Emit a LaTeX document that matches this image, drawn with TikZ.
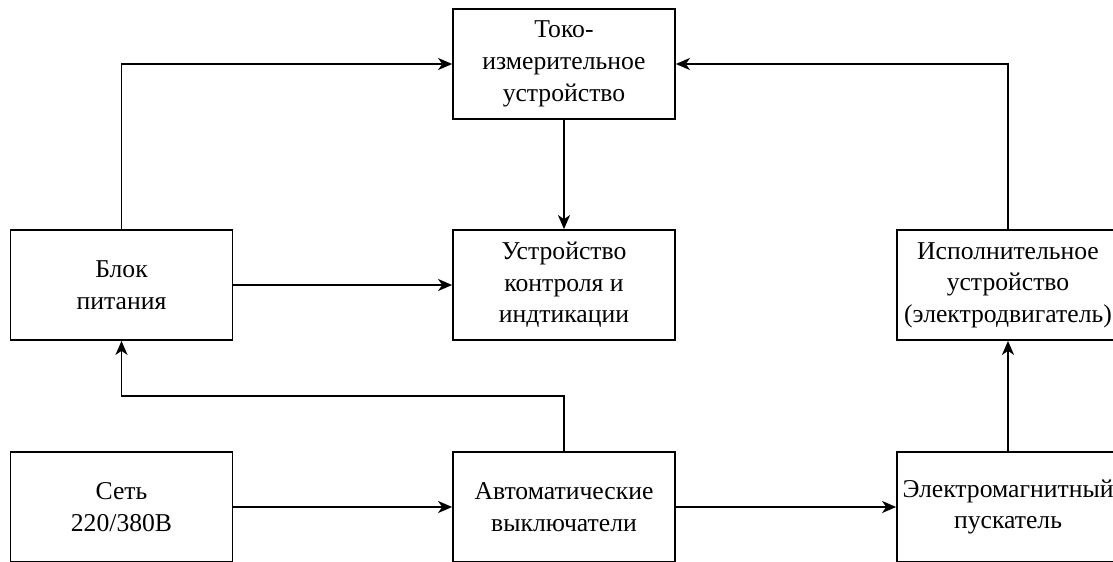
\documentclass[tikz,border=0pt]{standalone}
\usepackage{fontspec}
\setmainfont{Liberation Serif}
\usetikzlibrary{arrows.meta,positioning,calc}
\tikzstyle{blk}=[draw, line width=1pt, minimum width=4.44cm, minimum height=2.2cm, inner sep=0pt, align=center, font=\fontsize{14.6}{18}\selectfont]
\tikzstyle{lnk}=[line width=1pt, -{Stealth[length=0.28cm,width=0.24cm,inset=0.08cm]}]

\begin{document}
\begin{tikzpicture}

\clip (0,0) rectangle (22.26,11.22);

% blocks
\node[blk] (tok) at (11.28,9.94) {Токо-\\измерительное\\устройство};
\node[blk] (blok) at (2.43,5.52) {Блок\\питания};
\node[blk] (ustr) at (11.28,5.52) {Устройство\\контроля и\\индтикации};
\node[blk] (isp) at (20.16,5.52) {Исполнительное\\устройство\\(электродвигатель)};
\node[blk] (set) at (2.43,1.08) {Сеть\\220/380В};
\node[blk] (avt) at (11.28,1.08) {Автоматические\\выключатели};
\node[blk] (elm) at (20.16,1.08) {Электромагнитный\\пускатель};

% links
\draw[lnk] (blok.north) |- (tok.west);
\draw[lnk] (isp.north) |- (tok.east);
\draw[lnk] (tok) -- (ustr);
\draw[lnk] (blok) -- (ustr);
\draw[lnk] (set) -- (avt);
\draw[lnk] (avt) -- (elm);
\draw[lnk] (elm) -- (isp);

% back to power unit
\coordinate (split) at (11.28,3.3);
\draw[lnk] (avt.north) -- (split) -| (blok.south);

\end{tikzpicture}
\end{document}
